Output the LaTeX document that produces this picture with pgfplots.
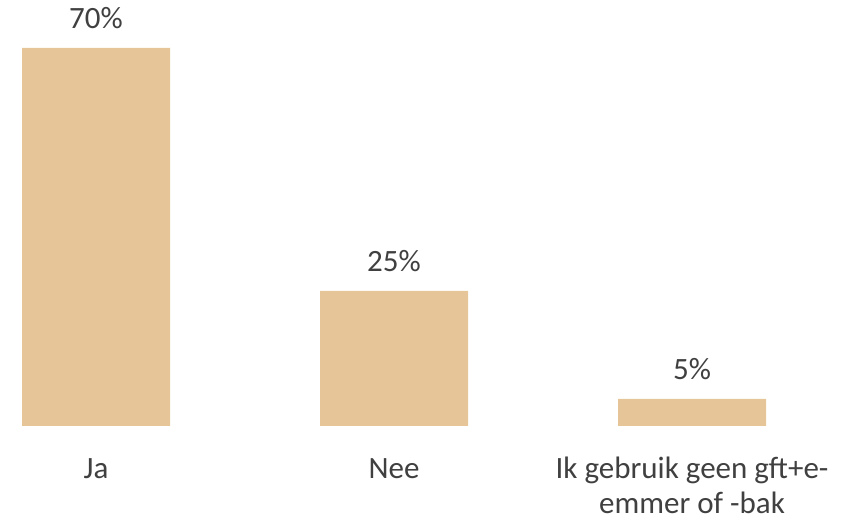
\documentclass[border=0pt]{standalone}
\usepackage{pgfplots}
\pgfplotsset{compat=1.18}
\usepackage{fontspec}
\setmainfont{Carlito}
\usetikzlibrary{calc}
\definecolor{barc}{HTML}{E6C698}
\definecolor{txt}{HTML}{404040}
\begin{document}
\fontsize{31}{35}\selectfont
\begin{tikzpicture}
\begin{axis}[
 scale only axis, width=819.5pt, height=378pt,
 xmin=-0.25, xmax=2.5, ymin=0, ymax=70,
 axis lines*=left, axis line style={draw=none},
 ytick=\empty, xtick={0,1,2}, xtick style={draw=none},
 xticklabels={Ja,Nee,{\setlength{\tabcolsep}{0pt}\begin{tabular}[t]{c}Ik gebruik geen gft+e-\\emmer of -bak\end{tabular}}},
 xticklabel style={anchor=base, yshift=-48pt, inner sep=0pt, font=\fontsize{31}{35}\selectfont, text=txt},
 ybar, bar width=148pt,
 /pgf/number format/assume math mode=true,
 nodes near coords={\pgfmathprintnumber{\pgfplotspointmeta}\%},
 nodes near coords style={anchor=base, yshift=19pt, inner sep=0pt, text=txt, font=\fontsize{31}{35}\selectfont},
 clip=false,
 enlargelimits=false,
]
\addplot[fill=barc, draw=none] coordinates {(0,70) (1,25) (2,5)};
\end{axis}
\pgfresetboundingbox
\path ($(current axis.south west)+(-21.5pt,-94pt)$) rectangle ($(current axis.north east)+(3pt,48pt)$);
\end{tikzpicture}
\end{document}
